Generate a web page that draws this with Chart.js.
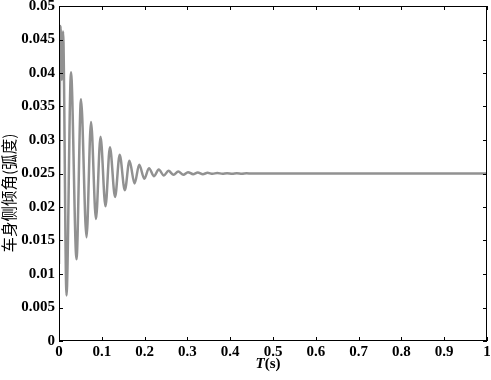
<!DOCTYPE html>
<html lang="zh">
<head>
  <meta charset="UTF-8" />
  <title>车身侧倾角</title>
  <script src="https://cdn.jsdelivr.net/npm/chart.js"></script>
  <style>
    html, body { margin: 0; padding: 0; background: #fff; }
    #wrap { width: 491px; height: 380px; }
  </style>
</head>
<body>
  <div id="wrap"><canvas id="roll"></canvas></div>

  <script>
    // time (s) and roll angle (rad): peaks and troughs
    const timeVals = [0, 0.0035, 0.0065, 0.0095, 0.0175, 0.028, 0.0409, 0.0514, 0.0643, 0.0748,
      0.0864, 0.097, 0.1086, 0.119, 0.131, 0.1418, 0.1538, 0.1646, 0.1766, 0.1874,
      0.1994, 0.2102, 0.2222, 0.233, 0.245, 0.2558, 0.2678, 0.2786, 0.2906, 0.3014,
      0.3134, 0.3242, 0.3362, 0.347, 0.359, 0.3698, 0.3818, 0.3926, 0.4046, 0.4154,
      0.4274, 0.4382, 0.45, 0.46, 1.0];
    const angleVals = [0.0115, 0.047, 0.039, 0.0462, 0.0068, 0.0401, 0.0122, 0.0361, 0.0155, 0.0327,
      0.0182, 0.0305, 0.0201, 0.0289, 0.0215, 0.0278, 0.0225, 0.0269, 0.0235, 0.0263,
      0.0242, 0.0258, 0.0246, 0.0256, 0.0247, 0.0254, 0.0248, 0.0253, 0.0248, 0.0252,
      0.0249, 0.02515, 0.0249, 0.0251, 0.02495, 0.02508, 0.02495, 0.02505, 0.02497, 0.02504,
      0.02498, 0.02503, 0.025, 0.025, 0.025];

    const xTicks = [0, 0.1, 0.2, 0.3, 0.4, 0.5, 0.6, 0.7, 0.8, 0.9, 1];
    const yLabel = "车身侧倾角(弧度)";

    const points = timeVals.map((t, i) => ({ x: t, y: angleVals[i] }));

    const tickFont = { family: "'Liberation Serif', 'Times New Roman', serif", size: 15, weight: "bold" };

    // frame, inward ticks and axis titles
    const framePlugin = {
      id: "frame",
      afterDraw(chart) {
        const ctx = chart.ctx;
        const a = chart.chartArea;
        const xs = chart.scales.x, ys = chart.scales.y;
        ctx.save();
        ctx.strokeStyle = "#000";
        ctx.lineWidth = 1;
        ctx.strokeRect(a.left + 0.5, a.top + 0.5, a.right - a.left - 1, a.bottom - a.top - 1);
        ctx.beginPath();
        xs.ticks.forEach(t => {
          const px = Math.round(xs.getPixelForValue(t.value)) + 0.5;
          ctx.moveTo(px, a.bottom); ctx.lineTo(px, a.bottom - 4);
          ctx.moveTo(px, a.top); ctx.lineTo(px, a.top + 4);
        });
        ys.ticks.forEach(t => {
          const py = Math.round(ys.getPixelForValue(t.value)) + 0.5;
          ctx.moveTo(a.left, py); ctx.lineTo(a.left + 4, py);
          ctx.moveTo(a.right, py); ctx.lineTo(a.right - 4, py);
        });
        ctx.stroke();

        // x title: italic T + (s)
        ctx.fillStyle = "#000";
        ctx.textBaseline = "middle";
        ctx.textAlign = "left";
        const f1 = "italic bold 15px 'Liberation Serif', serif";
        const f2 = "bold 15px 'Liberation Serif', serif";
        ctx.font = f1;
        const w1 = ctx.measureText("T").width;
        ctx.font = f2;
        const w2 = ctx.measureText("(s)").width;
        const cx = 268, cy = 364;
        ctx.font = f1;
        ctx.fillText("T", cx - (w1 + w2) / 2, cy);
        ctx.font = f2;
        ctx.fillText("(s)", cx - (w1 + w2) / 2 + w1, cy);

        // y title, rotated
        ctx.translate(9, 193);
        ctx.rotate(-Math.PI / 2);
        ctx.textAlign = "center";
        ctx.font = "15.5px 'Noto Sans CJK SC', sans-serif";
        ctx.fillText(yLabel, 0, 0);
        ctx.restore();
      }
    };

    new Chart(document.getElementById("roll"), {
      type: "line",
      data: {
        datasets: [{
          data: points,
          borderColor: "rgb(145,145,145)",
          borderWidth: 2.5,
          pointRadius: 0,
          fill: false,
          cubicInterpolationMode: "monotone"
        }]
      },
      options: {
        responsive: true,
        maintainAspectRatio: false,
        animation: false,
        layout: { autoPadding: false, padding: { top: 6, right: 4, left: 0, bottom: 0 } },
        plugins: { legend: { display: false }, tooltip: { enabled: false } },
        scales: {
          x: {
            type: "linear",
            min: 0, max: 1,
            afterFit: s => { s.height = 39; s.paddingLeft = 0; s.paddingRight = 0; },
            afterBuildTicks: s => { s.ticks = xTicks.map(v => ({ value: v })); },
            grid: { display: false, drawTicks: false },
            border: { display: false },
            ticks: {
              color: "#000", font: tickFont, padding: 2, maxRotation: 0,
              callback: v => String(+v.toFixed(1))
            }
          },
          y: {
            min: 0, max: 0.05,
            afterFit: s => { s.width = 59; s.paddingTop = 0; s.paddingBottom = 0; },
            grid: { display: false, drawTicks: false },
            border: { display: false },
            ticks: {
              stepSize: 0.005, color: "#000", font: tickFont, padding: 4,
              callback: v => String(+v.toFixed(3))
            }
          }
        }
      },
      plugins: [framePlugin]
    });
  </script>
</body>
</html>
